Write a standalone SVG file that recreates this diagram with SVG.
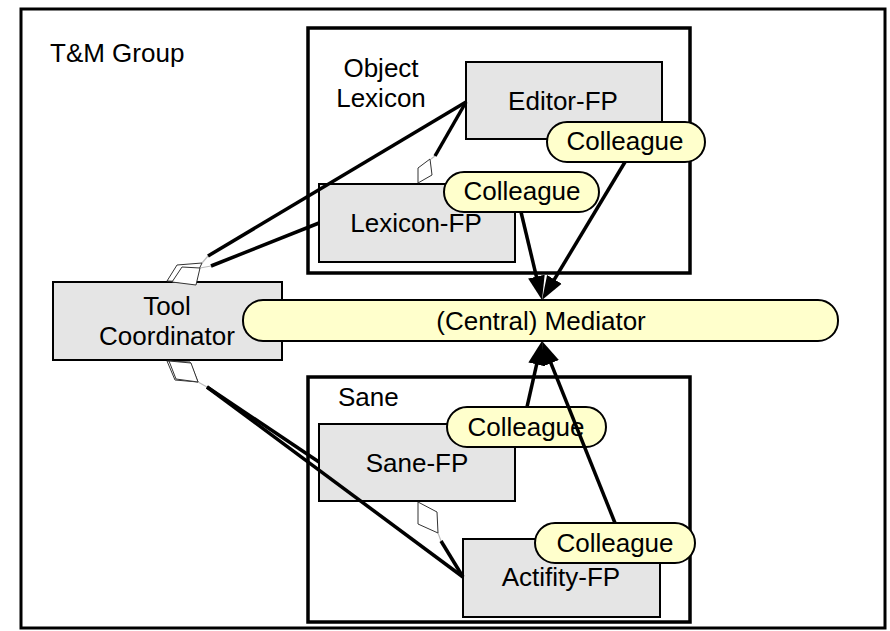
<svg xmlns="http://www.w3.org/2000/svg" width="890" height="631" viewBox="0 0 890 631">
<defs>
<marker id="arr" markerUnits="userSpaceOnUse" markerWidth="24" markerHeight="18" viewBox="0 0 24 18" refX="12" refY="9" orient="auto">
<path d="M0,0.5 L24,9 L0,17.5 z" fill="#000"/>
</marker>
</defs>
<style>
text{font-family:"Liberation Sans",Arial,sans-serif;font-size:26px;fill:#000}
.frame{fill:#fff;stroke:#000;stroke-width:3}
.cont{fill:none;stroke:#000;stroke-width:3.5}
.box{fill:#e5e5e5;stroke:#000;stroke-width:2}
.coll{fill:#ffffcc;stroke:#000;stroke-width:2}
.line{stroke:#000;stroke-width:3.5;fill:none}
.thin{stroke:#bbb;stroke-width:1.2;fill:none}
.dia{fill:#fff;stroke:#333;stroke-width:1}
.mid{text-anchor:middle}
</style>
<rect width="890" height="631" fill="#fff"/>
<g id="tm-group">
<rect class="frame" x="21" y="9" width="864" height="619"/>
<text x="50" y="62">T&amp;M Group</text>
</g>
<g id="object-lexicon">
<rect class="cont" x="308" y="28" width="382" height="245"/>
<text class="mid" x="381" y="77">Object</text>
<text class="mid" x="381" y="107">Lexicon</text>
</g>
<g id="sane">
<rect class="cont" x="308" y="377" width="382" height="245"/>
<text x="338" y="406">Sane</text>
</g>
<g id="editor-fp">
<rect class="box" x="466" y="62" width="196" height="77"/>
<text class="mid" x="563" y="110">Editor-FP</text>
</g>
<g id="lexicon-fp">
<rect class="box" x="319" y="184" width="196" height="78"/>
<text class="mid" x="416" y="232">Lexicon-FP</text>
</g>
<g id="sane-fp">
<rect class="box" x="319" y="424" width="196" height="77"/>
<text class="mid" x="417" y="472">Sane-FP</text>
</g>
<g id="actifity-fp">
<rect class="box" x="463" y="539" width="197" height="78"/>
<text class="mid" x="561" y="586">Actifity-FP</text>
</g>
<g id="tool-coordinator">
<rect class="box" x="53" y="282" width="229" height="78"/>
<text class="mid" x="167" y="315">Tool</text>
<text class="mid" x="167" y="345">Coordinator</text>
</g>
<g id="mediator">
<rect class="coll" x="243" y="300" width="595" height="41" rx="20" ry="20"/>
<text class="mid" x="541" y="330">(Central) Mediator</text>
</g>
<g id="colleague-editor">
<rect class="coll" x="547" y="122" width="158" height="40" rx="20" ry="20"/>
<text class="mid" x="625" y="150">Colleague</text>
</g>
<g id="colleague-lexicon">
<rect class="coll" x="444" y="172" width="155" height="40" rx="20" ry="20"/>
<text class="mid" x="522" y="200">Colleague</text>
</g>
<g id="colleague-sane">
<rect class="coll" x="447" y="407" width="159" height="40" rx="20" ry="20"/>
<text class="mid" x="526" y="436">Colleague</text>
</g>
<g id="colleague-actifity">
<rect class="coll" x="535" y="523" width="160" height="40" rx="20" ry="20"/>
<text class="mid" x="615" y="552">Colleague</text>
</g>
<g id="connectors">
<line class="line" x1="521" y1="212" x2="539.2" y2="288.3" marker-end="url(#arr)"/>
<line class="line" x1="625" y1="162" x2="548.2" y2="289.7" marker-end="url(#arr)"/>
<line class="line" x1="527" y1="407" x2="539.3" y2="352.7" marker-end="url(#arr)"/>
<line class="line" x1="615" y1="523" x2="546.5" y2="352.1" marker-end="url(#arr)"/>
<line class="thin" x1="202" y1="263" x2="208" y2="256"/>
<line class="line" x1="208" y1="256" x2="466" y2="102"/>
<line class="thin" x1="200" y1="268" x2="211" y2="266"/>
<line class="line" x1="211" y1="266" x2="319" y2="223"/>
<polygon class="dia" points="167,281 177,265 202,263 193,282"/>
<polygon class="dia" points="172,282 182,267 200,268 196,285"/>
<line class="thin" x1="198" y1="382" x2="207" y2="387"/>
<line class="line" x1="207" y1="387" x2="319" y2="462"/>
<line class="line" x1="207" y1="387" x2="463" y2="577"/>
<polygon class="dia" points="167,361 175,380 198,382 190,362"/>
<polygon class="dia" points="169,361 176,379 198,382 191,363"/>
<line class="thin" x1="431" y1="159" x2="435" y2="156"/>
<line class="line" x1="435" y1="156" x2="466" y2="102"/>
<polygon class="dia" points="418,183 418,168 430,159 432,175"/>
<line class="thin" x1="438" y1="533" x2="441" y2="541"/>
<line class="line" x1="441" y1="541" x2="463" y2="577"/>
<polygon class="dia" points="418,502 437,512 438,533 418,524"/>
</g>
</svg>
